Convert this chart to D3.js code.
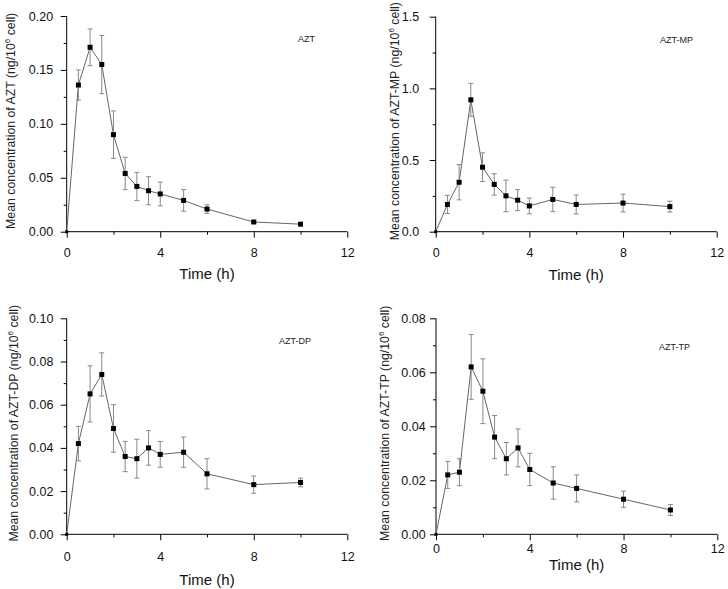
<!DOCTYPE html>
<html>
<head>
<meta charset="utf-8">
<script src="https://cdn.jsdelivr.net/npm/d3@7"></script>
<style>
  body { margin: 0; background: #fff; }
  svg { display: block; font-family: "Liberation Sans", Arial, sans-serif; }
</style>
</head>
<body>
<svg id="chart" width="728" height="589"></svg>
<script>
// sampling times (h)
var times = [0, 0.5, 1, 1.5, 2, 2.5, 3, 3.5, 4, 5, 6, 8, 10];

// mean and SD per analyte (ng/10^6 cell)
var aztMean = [0, 0.136, 0.171, 0.155, 0.090, 0.054, 0.042, 0.038, 0.035, 0.029, 0.021, 0.009, 0.007];
var aztSd   = [0, 0.014, 0.017, 0.027, 0.022, 0.015, 0.013, 0.013, 0.011, 0.010, 0.004, 0.001, 0];

var mpMean = [0, 0.19, 0.345, 0.92, 0.45, 0.33, 0.25, 0.22, 0.18, 0.225, 0.19, 0.20, 0.175];
var mpSd   = [0, 0.063, 0.123, 0.115, 0.10, 0.075, 0.11, 0.073, 0.055, 0.085, 0.066, 0.062, 0.038];

var dpMean = [0, 0.042, 0.065, 0.074, 0.049, 0.036, 0.035, 0.040, 0.037, 0.038, 0.028, 0.023, 0.024];
var dpSd   = [0, 0.008, 0.013, 0.010, 0.011, 0.007, 0.009, 0.008, 0.006, 0.007, 0.007, 0.004, 0.002];

var tpMean = [0, 0.022, 0.023, 0.062, 0.053, 0.036, 0.028, 0.032, 0.024, 0.019, 0.017, 0.013, 0.009];
var tpSd   = [0, 0.005, 0.005, 0.012, 0.012, 0.008, 0.006, 0.007, 0.006, 0.006, 0.005, 0.003, 0.002];

var names = ["AZT", "AZT-MP", "AZT-DP", "AZT-TP"];
var yMax = [0.20, 1.5, 0.10, 0.08];
var yMajor = [0.05, 0.5, 0.02, 0.02];
var yFormat = [".2f", ".1f", ".2f", ".2f"];
var xMajorTicks = [0, 4, 8, 12];
var xMinorTicks = [2, 6, 10];

var means = [aztMean, mpMean, dpMean, tpMean];
var sds = [aztSd, mpSd, dpSd, tpSd];

// where each panel sits on the page
var layout = [
    { x0: 66.7, x1: 347.3, y0: 231.7, y1: 16, yPad: 7.5, ylabX: 15, xTickY: 16, xTitleY: 279, tagX: 298, tagY: 42 },
    { x0: 435.7, x1: 716.7, y0: 231.7, y1: 16.7, yPad: 10.5, ylabX: 399, xTickY: 16, xTitleY: 280, tagX: 660, tagY: 43 },
    { x0: 66.7, x1: 347.3, y0: 534.3, y1: 318.3, yPad: 7.3, ylabX: 18, xTickY: 18, xTitleY: 585, tagX: 279, tagY: 344 },
    { x0: 436, x1: 717.3, y0: 534.3, y1: 318.3, yPad: 4.3, ylabX: 389, xTickY: 10, xTitleY: 570, tagX: 659, tagY: 350 }
];

var svg = d3.select("#chart");
svg.append("rect").attr("width", 728).attr("height", 589).attr("fill", "#fff");

function drawPanel(i) {
    var L = layout[i];
    var x = d3.scaleLinear().domain([0, 12]).range([L.x0, L.x1]);
    var y = d3.scaleLinear().domain([0, yMax[i]]).range([L.y0, L.y1]);
    var g = svg.append("g");

    // y major ticks with labels
    var yMajors = d3.range(0, yMax[i] + yMajor[i] / 2, yMajor[i]);
    var yMinors = yMajors.slice(0, -1).map(function(v) { return v + yMajor[i] / 2; });

    g.append("g").attr("transform", "translate(" + L.x0 + ",0)")
        .call(d3.axisLeft(y).tickValues(yMajors).tickSize(6).tickPadding(L.yPad)
            .tickFormat(d3.format(yFormat[i])))
        .call(function(a) {
            a.select(".domain").remove();
            a.selectAll("text").attr("font-size", 12.5).attr("fill", "#111")
                .attr("font-family", "Liberation Sans, Arial, sans-serif");
        });
    g.append("g").attr("transform", "translate(" + L.x0 + ",0)")
        .call(d3.axisLeft(y).tickValues(yMinors).tickSize(3).tickFormat(""))
        .call(function(a) { a.select(".domain").remove(); });

    // x ticks
    g.append("g").attr("transform", "translate(0," + L.y0 + ")")
        .call(d3.axisBottom(x).tickValues(xMajorTicks).tickSize(6).tickPadding(L.xTickY - 6)
            .tickFormat(d3.format("d")))
        .call(function(a) {
            a.select(".domain").remove();
            a.selectAll("text").attr("font-size", 12.5).attr("fill", "#111")
                .attr("font-family", "Liberation Sans, Arial, sans-serif");
        });
    g.append("g").attr("transform", "translate(0," + L.y0 + ")")
        .call(d3.axisBottom(x).tickValues(xMinorTicks).tickSize(3).tickFormat(""))
        .call(function(a) { a.select(".domain").remove(); });

    // axis lines
    g.append("line").attr("x1", L.x0).attr("x2", L.x0).attr("y1", L.y0).attr("y2", L.y1)
        .attr("stroke", "#000");
    g.append("line").attr("x1", L.x0).attr("x2", L.x1).attr("y1", L.y0).attr("y2", L.y0)
        .attr("stroke", "#000");

    // titles
    g.append("text").attr("x", (L.x0 + L.x1) / 2).attr("y", L.xTitleY)
        .attr("text-anchor", "middle").attr("font-size", 15).attr("fill", "#111")
        .text("Time (h)");

    var yl = g.append("text")
        .attr("transform", "translate(" + L.ylabX + "," + ((L.y0 + L.y1) / 2 - 3) + ") rotate(-90)")
        .attr("text-anchor", "middle").attr("font-size", 12.3).attr("fill", "#222");
    yl.append("tspan").text("Mean concentration of " + names[i] + " (ng/10");
    yl.append("tspan").attr("font-size", 8).attr("dy", -5).text("6");
    yl.append("tspan").attr("dy", 5).text(" cell)");

    g.append("text").attr("x", L.tagX).attr("y", L.tagY)
        .attr("font-size", 9).attr("fill", "#222").text(names[i]);

    var pts = times.map(function(t, k) { return { t: t, m: means[i][k], s: sds[i][k] }; });

    // line
    g.append("path").datum(pts)
        .attr("fill", "none").attr("stroke", "#666").attr("stroke-width", 1)
        .attr("d", d3.line().x(function(d) { return x(d.t); }).y(function(d) { return y(d.m); }));

    // error bars
    var eb = g.selectAll(".eb").data(pts.filter(function(d) { return d.s > 0; }))
        .enter().append("g").attr("stroke", "#888").attr("stroke-width", 1);
    eb.append("line")
        .attr("x1", function(d) { return x(d.t); }).attr("x2", function(d) { return x(d.t); })
        .attr("y1", function(d) { return y(d.m - d.s); }).attr("y2", function(d) { return y(d.m + d.s); });
    [-1, 1].forEach(function(sign) {
        eb.append("line")
            .attr("x1", function(d) { return x(d.t) - 2.5; }).attr("x2", function(d) { return x(d.t) + 2.5; })
            .attr("y1", function(d) { return y(d.m + sign * d.s); })
            .attr("y2", function(d) { return y(d.m + sign * d.s); });
    });

    // markers
    g.selectAll(".pt").data(pts.filter(function(d) { return d.t > 0; }))
        .enter().append("rect")
        .attr("x", function(d) { return x(d.t) - 2.5; })
        .attr("y", function(d) { return y(d.m) - 2.5; })
        .attr("width", 5).attr("height", 5).attr("fill", "#000");
    g.append("rect").attr("x", x(0) - 1.5).attr("y", y(0) - 1.5)
        .attr("width", 3).attr("height", 3).attr("fill", "#000");
}

for (var i = 0; i < 4; i++) {
    drawPanel(i);
}
</script>
</body>
</html>
